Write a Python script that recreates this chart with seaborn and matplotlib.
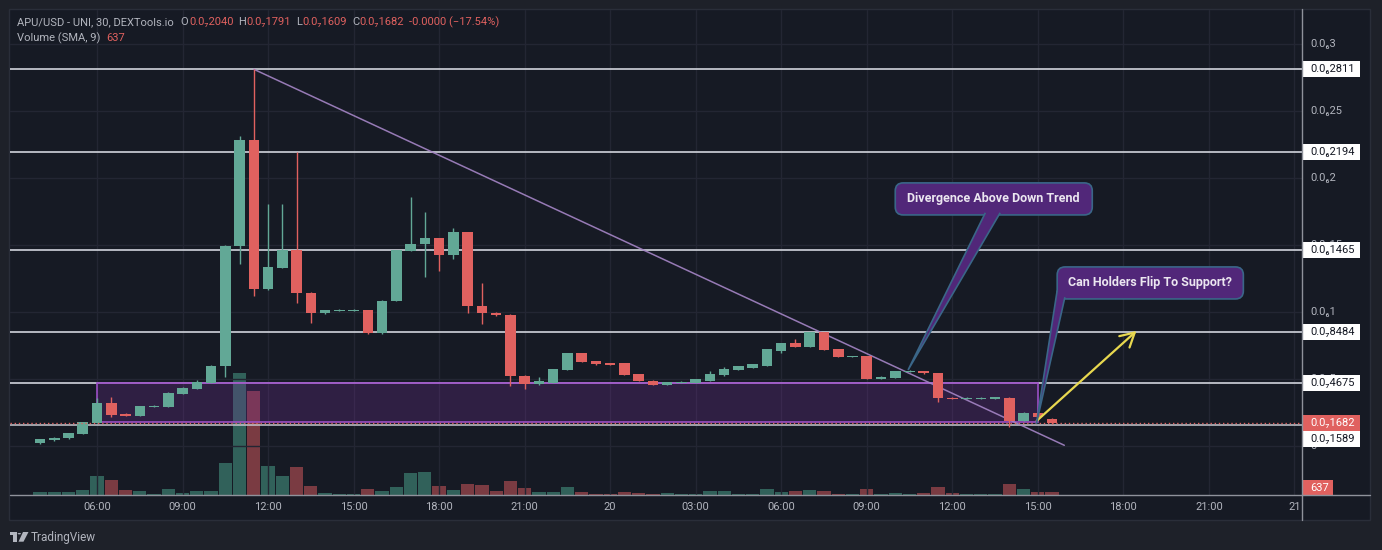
import numpy as np
import pandas as pd
import matplotlib
matplotlib.use("Agg")
import matplotlib.pyplot as plt
from matplotlib.patches import Rectangle, FancyBboxPatch, Polygon, Circle
from matplotlib.lines import Line2D
import seaborn as sns

# ---- data: 30 min candles, 19th 04:00 -> 20th 15:30, price in units of 1e-7 USD
opens = [0.020, 0.042, 0.057, 0.092, 0.174, 0.319,
         0.237, 0.224, 0.291, 0.294, 0.390, 0.425,
         0.472, 0.595, 1.493, 2.284, 1.169, 1.331,
         1.463, 1.144, 0.990, 1.007, 1.007, 1.015,
         0.841, 1.080, 1.455, 1.505, 1.552, 1.428,
         1.595, 1.045, 0.990, 0.978, 0.525, 0.460,
         0.472, 0.567, 0.692, 0.634, 0.617, 0.617,
         0.537, 0.487, 0.455, 0.472, 0.472, 0.487,
         0.532, 0.567, 0.584, 0.599, 0.711, 0.769,
         0.741, 0.848, 0.724, 0.664, 0.672, 0.502,
         0.510, 0.552, 0.560, 0.542, 0.360, 0.350,
         0.350, 0.352, 0.360, 0.189, 0.244, 0.204]
highs = [0.055, 0.068, 0.100, 0.182, 0.356, 0.363,
         0.245, 0.301, 0.302, 0.400, 0.443, 0.495,
         0.601, 1.497, 2.313, 2.811, 1.806, 1.806,
         2.196, 1.146, 1.017, 1.019, 1.019, 1.017,
         1.086, 1.465, 1.860, 1.746, 1.554, 1.630,
         1.597, 1.219, 1.000, 0.985, 0.527, 0.517,
         0.574, 0.694, 0.694, 0.636, 0.619, 0.619,
         0.539, 0.489, 0.477, 0.482, 0.500, 0.560,
         0.590, 0.599, 0.612, 0.724, 0.771, 0.798,
         0.850, 0.850, 0.726, 0.674, 0.674, 0.519,
         0.562, 0.564, 0.562, 0.544, 0.362, 0.362,
         0.362, 0.364, 0.362, 0.255, 0.246, 0.206]
lows = [0.015, 0.040, 0.055, 0.090, 0.172, 0.219,
        0.222, 0.222, 0.289, 0.292, 0.388, 0.423,
        0.470, 0.517, 1.358, 1.119, 1.167, 1.329,
        1.070, 0.916, 0.988, 1.005, 1.005, 0.835,
        0.839, 1.078, 1.453, 1.259, 1.308, 1.398,
        0.990, 0.910, 0.973, 0.450, 0.428, 0.458,
        0.470, 0.565, 0.627, 0.607, 0.605, 0.528,
        0.483, 0.453, 0.453, 0.470, 0.470, 0.485,
        0.520, 0.565, 0.582, 0.597, 0.690, 0.739,
        0.739, 0.717, 0.662, 0.662, 0.500, 0.500,
        0.508, 0.550, 0.540, 0.330, 0.348, 0.348,
        0.348, 0.350, 0.144, 0.187, 0.212, 0.161]
closes = [0.050, 0.062, 0.097, 0.179, 0.319, 0.231,
          0.224, 0.299, 0.299, 0.398, 0.435, 0.480,
          0.599, 1.495, 2.284, 1.169, 1.333, 1.463,
          1.139, 0.990, 1.015, 1.017, 1.017, 0.841,
          1.084, 1.463, 1.510, 1.552, 1.428, 1.595,
          1.045, 0.990, 0.975, 0.525, 0.463, 0.485,
          0.572, 0.692, 0.629, 0.609, 0.607, 0.530,
          0.485, 0.455, 0.475, 0.480, 0.498, 0.537,
          0.572, 0.597, 0.610, 0.722, 0.769, 0.741,
          0.848, 0.719, 0.664, 0.672, 0.502, 0.517,
          0.560, 0.562, 0.542, 0.356, 0.350, 0.360,
          0.360, 0.362, 0.189, 0.244, 0.214, 0.1682]
volumes = [660, 660, 660, 940, 3740, 3000,
           1000, 740, 200, 1140, 400, 740,
           740, 6340, 24340, 20800, 5800, 3800,
           5600, 1800, 400, 200, 200, 1140,
           740, 1540, 4340, 4540, 1740, 1000,
           2140, 1940, 800, 2800, 1340, 540,
           540, 1540, 540, 200, 200, 540,
           340, 200, 340, 200, 200, 740,
           740, 200, 200, 1140, 540, 740,
           940, 740, 200, 200, 1200, 260,
           400, 260, 400, 1540, 400, 260,
           260, 260, 2260, 1140, 600, 637]

# horizontal levels drawn on the chart
levels = [2.811, 2.194, 1.465, 0.8484, 0.4675]
level_labels = ["0.0₆2811", "0.0₆2194", "0.0₆1465", "0.0₇8484", "0.0₇4675"]
support_level = 0.1589
support_label = "0.0₇1589"
last_price_label = "0.0₇1682"
last_volume = "637"

price_ticks = [3.0, 2.5, 2.0, 1.5, 1.0, 0.5, 0.0]
price_tick_labels = ["0.0₆3", "0.0₆25", "0.0₆2", "0.0₆15", "0.0₆1", "0.0₇5", "0"]
time_ticks = [6, 9, 12, 15, 18, 21, 24, 27, 30, 33, 36, 39, 42, 45, 48]
time_tick_labels = ["06:00", "09:00", "12:00", "15:00", "18:00", "21:00", "20",
                    "03:00", "06:00", "09:00", "12:00", "15:00", "18:00", "21:00", "21"]

# ---- colours
OUTER = "#1e2129"
PANEL = "#161a24"
GRID = "#232633"
TXT = "#b2b5be"
UP = "#62a896"
DOWN = "#e0615f"
VOL_UP = "#31615a"
VOL_DOWN = "#7a3b42"
LEVEL = "#d1d4dc"
BOX = "#7b2fa0"
CALLOUT = "#512779"
CALLOUT_EDGE = "#3a6688"

sns.set_style("dark")
plt.rcParams["font.family"] = ["Roboto", "DejaVu Sans"]

times = pd.date_range("2024-03-19 04:00", periods=len(opens), freq="30min")
hours = np.asarray((times - times[0].normalize()) / pd.Timedelta(hours=1))
o, h, l, c = map(np.asarray, (opens, highs, lows, closes))
up = c >= o

W, H = 1382, 550
fig = plt.figure(figsize=(W / 100, H / 100), dpi=100)
fig.patch.set_facecolor(OUTER)


def fx(x):
    return x / W


def fy(y):
    return 1 - y / H


fig.add_artist(Rectangle((fx(9), fy(520)), fx(1370) - fx(9), fy(9) - fy(520),
                         transform=fig.transFigure, fc=PANEL, ec="#2a2e39", lw=1, zorder=-5))

PL, PR, PT, PB = 9.5, 1301.5, 9.5, 495
rect = [fx(PL), fy(PB), fx(PR) - fx(PL), fy(PT) - fy(PB)]
xlim = (2.93, 48.25)
ylim = (-0.366, 3.257)
px_per_price = (PB - PT) / (ylim[1] - ylim[0])

# volume pane (underneath the price pane)
ax_v = fig.add_axes(rect, zorder=1)
vol_df = pd.DataFrame({"hour": hours, "volume": volumes,
                       "dir": np.where(up, "up", "down")})
sns.barplot(data=vol_df, x="hour", y="volume", hue="dir",
            palette={"up": VOL_UP, "down": VOL_DOWN}, native_scale=True,
            dodge=False, width=0.93, saturation=1, errorbar=None,
            linewidth=0, legend=False, ax=ax_v)
ax_v.set_xlim(xlim)
ax_v.set_ylim(0, (PB - PT) * 200)
ax_v.axis("off")

# price pane
ax = fig.add_axes(rect, zorder=2)
ax.set_facecolor("none")
ax.set_xlim(xlim)
ax.set_ylim(ylim)
for s in ax.spines.values():
    s.set_visible(False)
ax.set_yticks(price_ticks)
ax.set_yticklabels([])
ax.set_xticks(time_ticks)
ax.set_xticklabels(time_tick_labels, color=TXT, fontsize=8)
ax.tick_params(axis="both", length=0)
ax.tick_params(axis="x", pad=5)
ax.grid(True, color=GRID, lw=1)
ax.set_axisbelow(True)

for lv in levels:
    ax.axhline(lv, color=LEVEL, lw=1.2, zorder=1)
ax.axhline(support_level, color="#c5c8d0", lw=1.1, zorder=1)

# purple range box
ax.add_patch(Rectangle((6.0, 0.177), 39.0 - 6.0, 0.4675 - 0.177, fc=BOX, alpha=0.25,
                       ec="none", zorder=1.5))
ax.add_patch(Rectangle((6.0, 0.177), 39.0 - 6.0, 0.4675 - 0.177, fc="none",
                       ec="#9b4fc6", lw=1.2, zorder=1.6))

# down trend line
ax.plot([11.5, 39.93], [2.811, 0.005], color="#a585c6", lw=1.1, alpha=0.9, zorder=2)

# candles
colors = np.where(up, UP, DOWN)
ax.vlines(hours, l, h, colors=colors, lw=1, zorder=3)
ax.bar(hours, np.maximum(np.abs(c - o), 0.008), bottom=np.minimum(o, c), width=0.37,
       color=colors, lw=0, zorder=3.1)
ax.axhline(c[-1], color=DOWN, lw=1, ls=(0, (1, 2)), zorder=3.5)

# callouts
aspect = (xlim[1] - xlim[0]) / (PR - PL) * px_per_price


def callout(x0, x1, y0, y1, tail, text):
    ax.add_patch(FancyBboxPatch((x0, y0), x1 - x0, y1 - y0,
                                boxstyle="round,pad=0,rounding_size=0.28",
                                mutation_aspect=1 / aspect,
                                fc=CALLOUT, ec=CALLOUT_EDGE, lw=1.2, zorder=4))
    ax.add_patch(Polygon(tail, closed=False, fc=CALLOUT, ec=CALLOUT_EDGE, lw=1.2, zorder=4.1))
    ax.text((x0 + x1) / 2, (y0 + y1) / 2, text, color="#ebe6f0", fontsize=9,
            fontweight="semibold", ha="center", va="center", zorder=4.2)


callout(34.0, 40.91, 1.724, 1.963,
        [(37.16, 1.74), (34.45, 0.567), (37.68, 1.74)], "Divergence Above Down Trend")
callout(39.68, 46.21, 1.097, 1.336,
        [(39.68, 1.16), (38.95, 0.164), (39.95, 1.11)], "Can Holders Flip To Support?")

ax.annotate("", xy=(42.46, 0.858), xytext=(38.96, 0.187),
            arrowprops=dict(arrowstyle="->,head_length=1.0,head_width=0.55",
                            color="#e8d84f", lw=1.6, shrinkA=0, shrinkB=0), zorder=4)

# price scale
axp = fig.add_axes([fx(PR), fy(PB), fx(1370) - fx(PR), fy(PT) - fy(PB)], zorder=3)
axp.set_xlim(0, 1370 - PR)
axp.set_ylim(ylim)
axp.axis("off")
for t, lab in zip(price_ticks, price_tick_labels):
    axp.text(9, t, lab, color=TXT, fontsize=8, va="center", ha="left")
box_h = 16 / px_per_price


def price_box(y, lab, fc, tc, w=58):
    axp.add_patch(Rectangle((0.5, y - box_h / 2), w, box_h, fc=fc, ec="none", zorder=5))
    axp.text(8.5, y, lab, color=tc, fontsize=8, va="center", ha="left", zorder=6)


for lv, lab in zip(levels, level_labels):
    price_box(lv, lab, "white", "#131722")
price_box(c[-1], last_price_label, DOWN, "white")
price_box(c[-1] - box_h, support_label, "white", "#131722")
price_box(ylim[0] + 7 / px_per_price, last_volume, DOWN, "white", w=31)

# pane separators
fig.add_artist(Line2D([fx(PR), fx(PR)], [fy(9), fy(520)], color="#8f929b", lw=1, zorder=10))
fig.add_artist(Line2D([fx(10), fx(1370)], [fy(PB), fy(PB)], color="#8f929b", lw=1, zorder=10))

# header legend
renderer = fig.canvas.get_renderer()


def write_run(x, y, parts):
    for text, col, gap in parts:
        t = fig.text(fx(x), fy(y), text, color=col, fontsize=8, va="center", ha="left")
        x = t.get_window_extent(renderer).x1 + gap


write_run(17, 22, [("APU/USD - UNI, 30, DEXTools.io", TXT, 7), ("O", TXT, 0.5),
                   ("0.0₇2040", DOWN, 5), ("H", TXT, 0.5), ("0.0₇1791", DOWN, 5),
                   ("L", TXT, 0.5), ("0.0₇1609", DOWN, 5), ("C", TXT, 0.5),
                   ("0.0₇1682", DOWN, 5), ("-0.0000 (−17.54%)", DOWN, 0)])
write_run(17, 38, [("Volume (SMA, 9)", TXT, 6), (last_volume, DOWN, 0)])

# TradingView logo
logo = "#b2b5be"
fig.add_artist(Polygon([(fx(9.5), fy(532)), (fx(16.5), fy(532)), (fx(16.5), fy(541.7)),
                        (fx(13), fy(541.7)), (fx(13), fy(535.3)), (fx(9.5), fy(535.3))],
                       closed=True, transform=fig.transFigure, fc=logo, ec="none"))
fig.add_artist(Circle((fx(19.3), fy(533.7)), 1.7 / W, transform=fig.transFigure,
                      fc=logo, ec="none"))
fig.add_artist(Polygon([(fx(23), fy(532)), (fx(28.5), fy(532)), (fx(23.5), fy(541.7)),
                        (fx(18.5), fy(541.7))],
                       closed=True, transform=fig.transFigure, fc=logo, ec="none"))
fig.text(fx(31), fy(537), "TradingView", color=logo, fontsize=8.5, va="center", ha="left")

fig.savefig("out.png", dpi=100, facecolor=fig.get_facecolor())
